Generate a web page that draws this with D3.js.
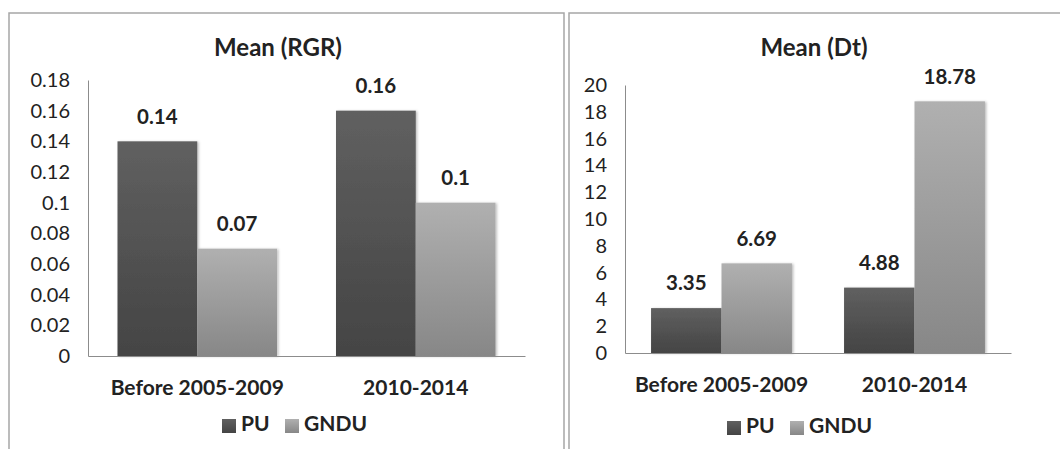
<!DOCTYPE html>
<html>
<head>
<meta charset="utf-8">
<script src="https://cdn.jsdelivr.net/npm/d3@7"></script>
<style>
  body { margin: 0; background: #fff; }
  svg { display: block; font-family: Lato, "Open Sans", sans-serif; }
</style>
</head>
<body>
<script>
// data
const categories = ["Before 2005-2009", "2010-2014"];
const seriesNames = ["PU", "GNDU"];
const rgrPU = [0.14, 0.16];
const rgrGNDU = [0.07, 0.1];
const rgrTicks = [0, 0.02, 0.04, 0.06, 0.08, 0.1, 0.12, 0.14, 0.16, 0.18];
const dtPU = [3.35, 4.88];
const dtGNDU = [6.69, 18.78];
const dtTicks = [0, 2, 4, 6, 8, 10, 12, 14, 16, 18, 20];

const W = 1060;
const H = 449;
const FONT = "Lato, 'Open Sans', sans-serif";

const svg = d3.select("body").append("svg").attr("width", W).attr("height", H);

const defs = svg.append("defs");
const grad = (id, top, bottom) => {
  const g = defs.append("linearGradient").attr("id", id)
    .attr("x1", 0).attr("y1", 0).attr("x2", 0).attr("y2", 1);
  g.append("stop").attr("offset", "0%").attr("stop-color", top);
  g.append("stop").attr("offset", "100%").attr("stop-color", bottom);
};
grad("gPU", "#606060", "#444444");
grad("gGNDU", "#b0b0b0", "#878787");
const fills = ["url(#gPU)", "url(#gGNDU)"];

const shadow = defs.append("filter").attr("id", "shadow")
  .attr("x", "-10%").attr("y", "-10%").attr("width", "130%").attr("height", "120%");
shadow.append("feDropShadow").attr("dx", 1.5).attr("dy", 0.5)
  .attr("stdDeviation", 1.2).attr("flood-color", "#000").attr("flood-opacity", 0.25);

function drawPanel(p) {
  const g = svg.append("g");

  // panel frame
  g.append("rect")
    .attr("x", p.frame[0]).attr("y", 13)
    .attr("width", p.frame[1] - p.frame[0]).attr("height", H + 20)
    .attr("fill", "none").attr("stroke", "#a6a6a6").attr("stroke-width", 1.5);

  g.append("text")
    .attr("x", p.titleX).attr("y", 50)
    .attr("text-anchor", "middle").attr("dominant-baseline", "middle")
    .attr("font-size", 24).attr("font-weight", "bold").attr("fill", "#222")
    .text(p.title);

  const x0 = d3.scaleBand().domain(categories).range([p.left, p.right]).paddingInner(0.27).paddingOuter(0.135);
  const x1 = d3.scaleBand().domain(seriesNames).range([0, x0.bandwidth()]);
  const y = d3.scaleLinear().domain([0, p.max]).range([p.base, p.top]);

  // y axis
  const yAxis = d3.axisLeft(y).tickValues(p.ticks).tickSize(0).tickPadding(18)
    .tickFormat(d => String(d));
  const ya = g.append("g").attr("transform", `translate(${p.left},0)`).call(yAxis);
  ya.select(".domain").attr("stroke", "#8c8c8c").attr("stroke-width", 1);
  ya.selectAll("text").attr("font-size", 20).attr("fill", "#222").attr("font-family", FONT);

  // bars
  const series = [p.pu, p.gndu];
  categories.forEach((c, ci) => {
    seriesNames.forEach((s, si) => {
      const v = series[si][ci];
      g.append("rect")
        .attr("x", x0(c) + x1(s))
        .attr("y", y(v))
        .attr("width", x1.bandwidth())
        .attr("height", p.base - y(v))
        .attr("fill", fills[si])
        .attr("filter", "url(#shadow)");
      g.append("text")
        .attr("x", x0(c) + x1(s) + x1.bandwidth() / 2)
        .attr("y", y(v) - 23)
        .attr("text-anchor", "middle").attr("dominant-baseline", "middle")
        .attr("font-size", 20.5).attr("font-weight", "bold").attr("fill", "#222")
        .text(v);
    });
  });

  // x axis
  const xAxis = d3.axisBottom(x0).tickSize(0).tickPadding(24);
  const xa = g.append("g").attr("transform", `translate(0,${p.base})`).call(xAxis);
  xa.select(".domain").attr("stroke", "#8c8c8c").attr("stroke-width", 1);
  xa.selectAll("text").attr("font-size", 21).attr("font-weight", "bold").attr("fill", "#222")
    .attr("font-family", FONT);

  // legend
  const lg = g.append("g").attr("transform", `translate(${p.legendX},${p.legendY})`);
  const offs = [0, 63];
  seriesNames.forEach((s, si) => {
    lg.append("rect").attr("x", offs[si]).attr("y", -7).attr("width", 14).attr("height", 14)
      .attr("fill", fills[si]);
    lg.append("text").attr("x", offs[si] + 19).attr("y", 0)
      .attr("dominant-baseline", "middle")
      .attr("font-size", 21).attr("font-weight", "bold").attr("fill", "#222")
      .text(s);
  });
}

drawPanel({
  frame: [9, 564], title: "Mean (RGR)", titleX: 278,
  left: 88, right: 525, top: 80, base: 356, max: 0.18, ticks: rgrTicks,
  pu: rgrPU, gndu: rgrGNDU, legendX: 222, legendY: 426
});

drawPanel({
  frame: [569, 1075], title: "Mean (Dt)", titleX: 814,
  left: 625, right: 1011, top: 85, base: 353, max: 20, ticks: dtTicks,
  pu: dtPU, gndu: dtGNDU, legendX: 727, legendY: 428
});
</script>
</body>
</html>
